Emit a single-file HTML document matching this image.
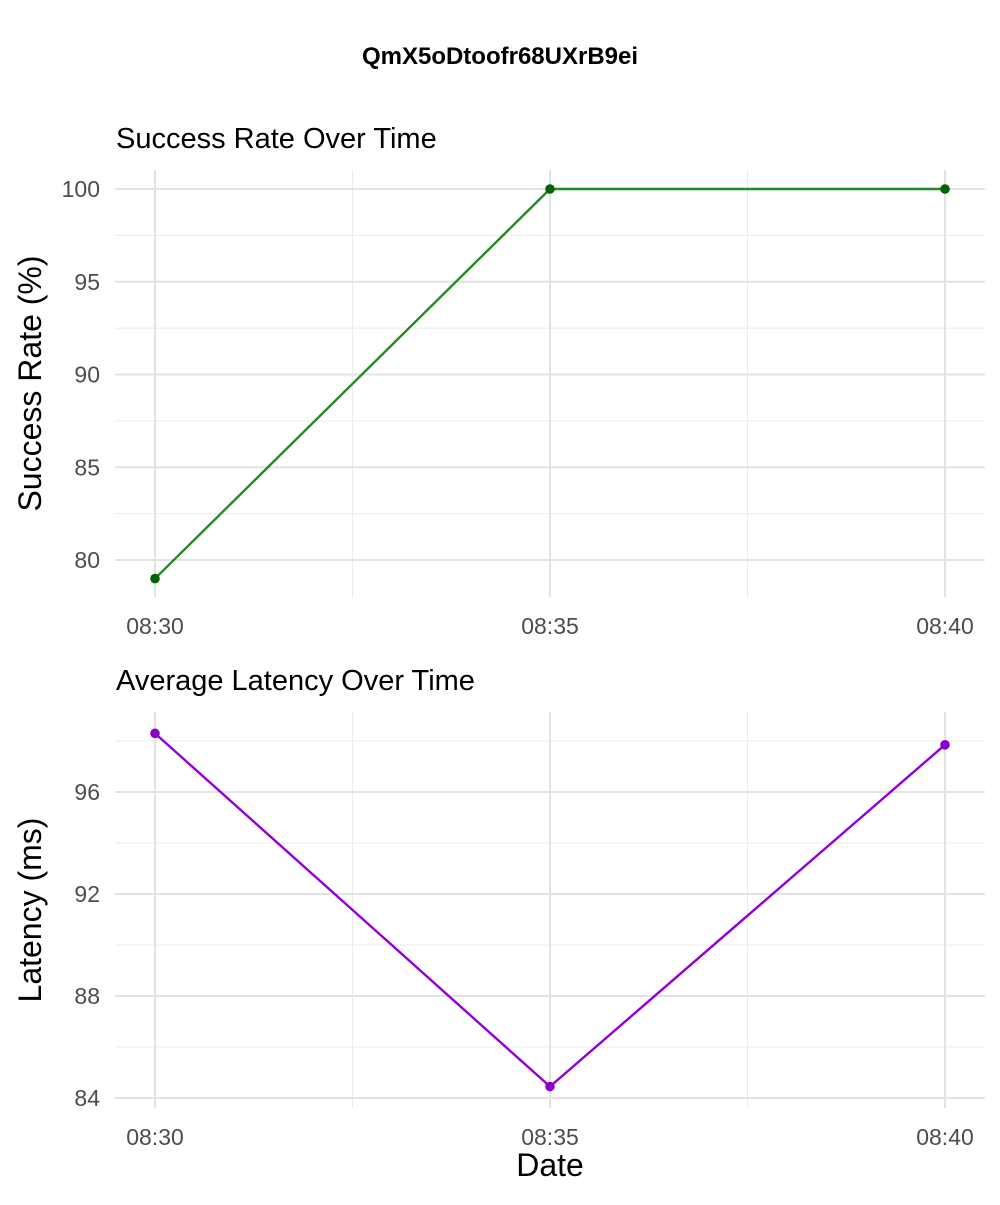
<!DOCTYPE html>
<html><head><meta charset="utf-8"><style>
body{margin:0;background:#fff;font-family:"Liberation Sans",Arial,sans-serif}
svg text{font-family:"Liberation Sans",Arial,sans-serif}
</style></head><body>
<svg id="c" width="1000" height="1200" xmlns="http://www.w3.org/2000/svg">
<rect width="1000" height="1200" fill="#fff"/>
<text x="500" y="64" text-anchor="middle" font-size="24" font-weight="bold">QmX5oDtoofr68UXrB9ei</text>
</svg>
<script>
const times=["08:30","08:35","08:40"];
const successRate=[79,100,100];
const latency=[98.3,84.45,97.85];
const srTicks=[80,85,90,95,100];
const latTicks=[84,88,92,96];
const NS="http://www.w3.org/2000/svg";
const svg=document.getElementById('c');
function mk(t,a,txt){const e=document.createElementNS(NS,t);for(const k in a)e.setAttribute(k,a[k]);if(txt!==undefined)e.textContent=txt;svg.appendChild(e);return e;}
const xs=i=>155+i*395;
function panel(p){
  const y=v=>p.y0+(v-p.v0)*(p.y1-p.y0)/(p.v1-p.v0);
  for(let i=0;i<p.ticks.length;i++){
    const v=p.ticks[i];
    if(i<p.ticks.length-1||p.extraMinor){const mv=v+p.step/2;const m=mk('line',{x1:115,x2:985,y1:y(mv),y2:y(mv),stroke:'#ebebeb','stroke-width':1});
    
    }
  }
  for(let i=0;i<times.length-1;i++){const mx=(xs(i)+xs(i+1))/2;const m=mk('line',{x1:mx,x2:mx,y1:p.top,y2:p.bot,stroke:'#ebebeb','stroke-width':1});
  
  }
  p.ticks.forEach(v=>{const g=mk('line',{x1:115,x2:985,y1:y(v),y2:y(v),stroke:'#e3e3e3','stroke-width':2});
  
  
  const t=mk('text',{x:100,y:y(v)+8,'text-anchor':'end','font-size':23,fill:'#4d4d4d'},String(v));
  
  });
  times.forEach((tm,i)=>{const g=mk('line',{x1:xs(i),x2:xs(i),y1:p.top,y2:p.bot,stroke:'#e3e3e3','stroke-width':2});
  
  
  const t=mk('text',{x:xs(i),y:p.bot+37,'text-anchor':'middle','font-size':23,fill:'#4d4d4d'},tm);
  
  });
  const pts=p.data.map((v,i)=>xs(i)+','+y(v)).join(' ');
  const l=mk('polyline',{points:pts,fill:'none',stroke:p.line,'stroke-width':2.4});
  
  
  p.data.forEach((v,i)=>{const c=mk('circle',{cx:xs(i),cy:y(v),r:4.8,fill:p.pt});
  
  });
  const st=mk('text',{x:116,y:p.top-22,'font-size':29},p.title);
  
  
  const cy=(p.top+p.bot)/2;
  const yt=mk('text',{x:41,y:cy,'text-anchor':'middle','font-size':32,transform:`rotate(-90 41 ${cy})`},p.ytitle);
  
  
}
panel({name:'success-rate',data:successRate,ticks:srTicks,step:5,v0:80,v1:100,y0:560,y1:189,top:170,bot:597,line:'#228b22',pt:'#006400',title:'Success Rate Over Time',ytitle:'Success Rate (%)',extraMinor:false});
panel({name:'latency',data:latency,ticks:latTicks,step:4,v0:84,v1:96,y0:1098,y1:792,top:712,bot:1108,line:'#9400d3',pt:'#8a00c8',title:'Average Latency Over Time',ytitle:'Latency (ms)',extraMinor:true});
const dt=mk('text',{x:550,y:1176,'text-anchor':'middle','font-size':32},'Date');


</script>
</body></html>
